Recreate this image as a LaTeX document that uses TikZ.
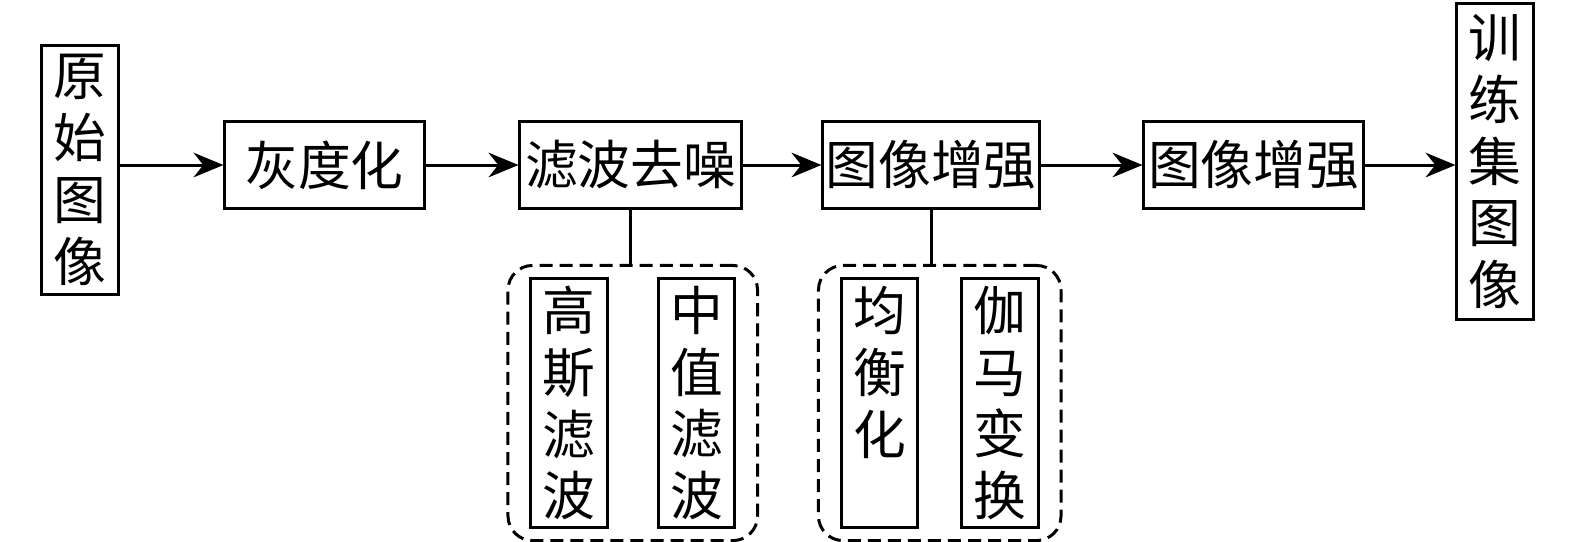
\documentclass[tikz,border=0pt]{standalone}
\usepackage{fontspec}
\newfontfamily\cjk{Noto Sans CJK SC}
\usetikzlibrary{arrows.meta,fit}

\tikzset{
  box/.style={draw, line width=0.85pt, inner sep=0pt, align=center,
    font=\cjk\fontsize{15}{17.6}\selectfont},
  hbox/.style={box, minimum height=0.86cm},
  vbox/.style={box, minimum width=0.76cm, minimum height=2.48cm},
  flow/.style={line width=0.85pt, -{Stealth[length=8.5pt,width=7pt]}},
  link/.style={line width=0.85pt},
  group/.style={draw, line width=0.85pt, dash pattern=on 3.7pt off 2pt,
    rounded corners=7pt, inner xsep=0.215cm, inner ysep=0.12cm},
}

\begin{document}
\begin{tikzpicture}[x=0.01cm, y=-0.01cm]
  %%%%% START %%%%%
  \useasboundingbox (0,0) rectangle (1575,541);

  % main chain
  \node[vbox] (src) at (80,170) {原\\始\\图\\像};
  \node[hbox, minimum width=1.99cm] (gray) at (324.5,165) {灰度化};
  \node[hbox, minimum width=2.21cm] (denoise) at (630.5,165) {滤波去噪};
  \node[hbox, minimum width=2.16cm] (enh1) at (931,165) {图像增强};
  \node[hbox, minimum width=2.19cm] (enh2) at (1253.5,165) {图像增强};
  \node[vbox, minimum height=3.15cm] (out) at (1495,161.5) {训\\练\\集\\图\\像};

  % sub steps
  \node[vbox] (gauss) at (569,403) {高\\斯\\滤\\波};
  \node[vbox] (median) at (696.5,403) {中\\值\\滤\\波};
  \node[vbox] (equal) at (879.5,403) {均\\衡\\化\\\phantom{化}};
  \node[vbox] (gamma) at (1000,403) {伽\\马\\变\\换};
  \node[group, fit=(gauss)(median)] (filters) {};
  \node[group, fit=(equal)(gamma)] (enhance) {};

  \draw[flow] (src.east |- gray.west) -- (gray.west);
  \draw[flow] (gray) -- (denoise);
  \draw[flow] (denoise) -- (enh1);
  \draw[flow] (enh1) -- (enh2);
  \draw[flow] (enh2.east) -- (out.west |- enh2.east);

  \draw[link] (denoise.south) -- (denoise.south |- filters.north);
  \draw[link] (enh1.south) -- (enh1.south |- enhance.north);
  %%%%% END %%%%%
\end{tikzpicture}
\end{document}
